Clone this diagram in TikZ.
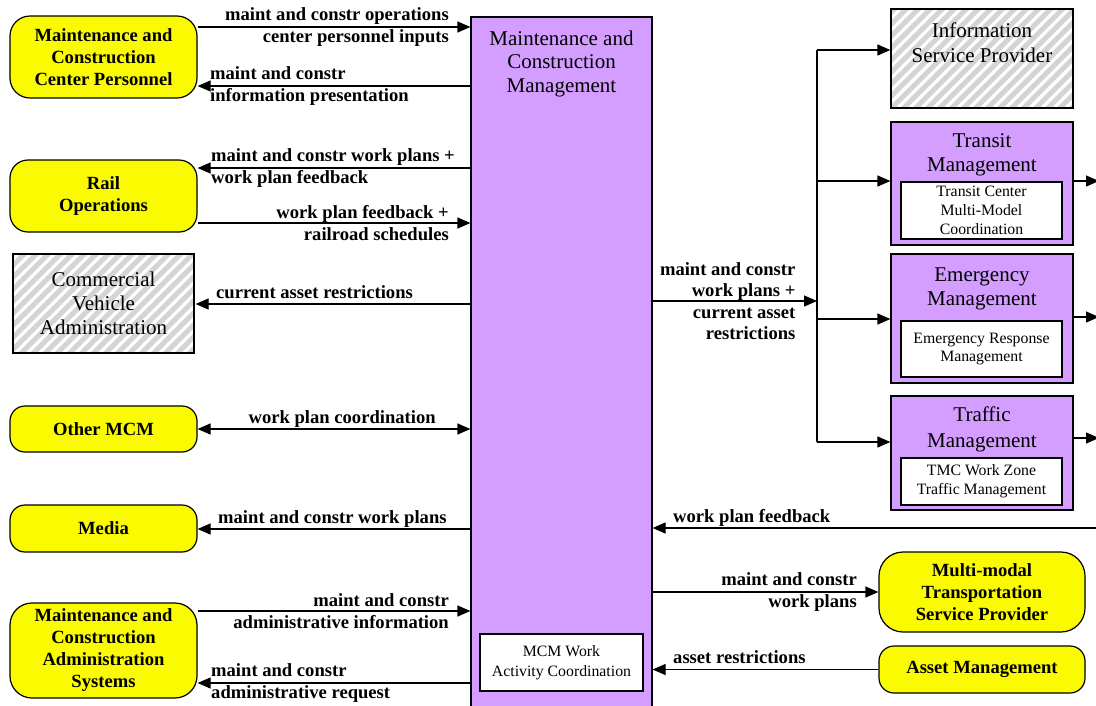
\documentclass[tikz,border=0pt]{standalone}
\usepackage{fontspec}
\setmainfont{Liberation Serif}
\usetikzlibrary{arrows.meta,patterns.meta}

\definecolor{termyellow}{RGB}{250,250,0}
\definecolor{subpurple}{RGB}{211,158,255}

\tikzset{
  term/.style={draw, line width=1.2pt, fill=termyellow, rounded corners=15pt,
    align=center, inner sep=0pt, font=\fontsize{18.6}{22}\selectfont\bfseries},
  subsys/.style={draw, line width=1.2pt, fill=subpurple, inner sep=0pt},
  hatched/.style={draw, line width=1.2pt, preaction={fill=black!17},
    pattern={Lines[angle=45,distance=8.5pt,line width=3.2pt]}, pattern color=white,
    align=center, inner sep=0pt, font=\fontsize{21}{24}\selectfont},
  equip/.style={draw, line width=1.2pt, fill=white, align=center, inner sep=0pt,
    font=\fontsize{15.8}{19}\selectfont},
  boxtitle/.style={align=center, inner sep=0pt, font=\fontsize{21}{24}\selectfont},
  flow/.style={line width=1.2pt, -{Triangle[length=13pt,width=11pt]}},
  flowboth/.style={line width=1.2pt, {Triangle[length=13pt,width=11pt]}-{Triangle[length=13pt,width=11pt]}},
  flowlbl/.style={inner sep=0pt, font=\fontsize{18.6}{21.5}\selectfont\bfseries},
}

\begin{document}
\begin{tikzpicture}[x=1pt,y=-1pt]

\useasboundingbox (0,0) rectangle (1096,705);

% Terminators on the left
\node[term, rounded corners=20pt, minimum width=187pt, minimum height=82pt] (mccp) at (103.5,57) {Maintenance and\\Construction\\Center Personnel};
\node[term, rounded corners=18pt, minimum width=187pt, minimum height=72pt] (rail) at (103.5,196) {Rail\\Operations};
\node[hatched, minimum width=181pt, minimum height=99pt] (cva) at (103.5,303.5) {Commercial\\Vehicle\\Administration};
\node[term, minimum width=187pt, minimum height=46pt] (othermcm) at (103.5,429) {Other MCM};
\node[term, minimum width=187pt, minimum height=47pt] (media) at (103.5,528.5) {Media};
\node[term, rounded corners=22pt, minimum width=187pt, minimum height=95pt] (mcas) at (103.5,650.5) {Maintenance and\\Construction\\Administration\\Systems};

% Center subsystem
\node[subsys, minimum width=181pt, minimum height=695pt] (mcm) at (561.5,364.5) {};
\node[boxtitle, font=\fontsize{21}{23.5}\selectfont] (mcmtitle) at (561.5,63.5) {Maintenance and\\Construction\\Management};
\node[equip, minimum width=163pt, minimum height=57pt, font=\fontsize{15.8}{20}\selectfont] (mcmwork) at (561.5,662.5) {MCM Work\\Activity Coordination};

% Right side
\node[hatched, minimum width=182pt, minimum height=99pt] (isp) at (982,58.5) {};
\node[boxtitle, font=\fontsize{21}{25}\selectfont] (isptext) at (982,42.5) {Information\\Service Provider};

\node[subsys, minimum width=182pt, minimum height=123pt] (transit) at (982,183.5) {};
\node[boxtitle] (transittitle) at (982,154.5) {Transit\\Management};
\node[equip, minimum width=161pt, minimum height=57pt] (transiteq) at (981.5,210.5) {Transit Center\\Multi-Model\\Coordination};

\node[subsys, minimum width=182pt, minimum height=129pt] (emergency) at (982,318.5) {};
\node[boxtitle] (emergencytitle) at (982,288.5) {Emergency\\Management};
\node[equip, minimum width=161pt, minimum height=56pt, font=\fontsize{15.8}{18}\selectfont] (emergencyeq) at (981.5,349) {Emergency Response\\Management};

\node[subsys, minimum width=182pt, minimum height=114pt] (traffic) at (982,453) {};
\node[boxtitle, font=\fontsize{21}{26}\selectfont] (traffictitle) at (982,429) {Traffic\\Management};
\node[equip, minimum width=161pt, minimum height=47pt] (trafficeq) at (981.5,481.5) {TMC Work Zone\\Traffic Management};

\node[term, rounded corners=24pt, minimum width=206pt, minimum height=80pt] (mmtsp) at (982,592) {Multi-modal\\Transportation\\Service Provider};
\node[term, minimum width=206pt, minimum height=47pt] (asset) at (982,669.5) {Asset Management};

\coordinate (split) at (817,301);
\coordinate (edge) at (1099,0);

% Flows on the left
\draw[flow] (mccp.east |- 0,27) -- (mcm.west |- 0,27)
  node[flowlbl, pos=1, anchor=east, xshift=-21pt, align=right] {maint and constr operations\\center personnel inputs};
\draw[flow] (mcm.west |- 0,86) -- (mccp.east |- 0,86)
  node[flowlbl, pos=1, anchor=west, xshift=12pt, align=left] {maint and constr\\information presentation};
\draw[flow] (mcm.west |- 0,168) -- (rail.east |- 0,168)
  node[flowlbl, pos=1, anchor=west, xshift=13pt, align=left] {maint and constr work plans +\\work plan feedback};
\draw[flow] (rail.east |- 0,223) -- (mcm.west |- 0,223)
  node[flowlbl, pos=1, anchor=east, xshift=-21pt, align=right] {work plan feedback +\\railroad schedules};
\draw[flow] (mcm.west |- 0,304) -- (cva.east |- 0,304)
  node[flowlbl, pos=1, anchor=base west, xshift=20pt, yshift=6pt] {current asset restrictions};
\draw[flowboth] (othermcm.east) -- (mcm.west |- othermcm.east)
  node[flowlbl, pos=0.53, anchor=base, yshift=6pt] {work plan coordination};
\draw[flow] (mcm.west |- 0,529) -- (media.east |- 0,529)
  node[flowlbl, pos=1, anchor=base west, xshift=20pt, yshift=6pt] {maint and constr work plans};
\draw[flow] (mcas.east |- 0,611) -- (mcm.west |- 0,611)
  node[flowlbl, pos=1, anchor=east, xshift=-21pt, align=right] {maint and constr\\administrative information};
\draw[flow] (mcm.west |- 0,683) -- (mcas.east |- 0,683)
  node[flowlbl, pos=1, anchor=west, xshift=13pt, align=left] {maint and constr\\administrative request};

% Flows on the right
\draw[flow] (mcm.east |- split) -- (split)
  node[flowlbl, pos=1, anchor=east, xshift=-21pt, align=right] {maint and constr\\work plans +\\current asset\\restrictions};
\draw[line width=1.2pt] (split |- 0,50) -- (split |- 0,442);
\draw[flow] (split |- 0,50) -- (isp.west |- 0,50);
\draw[flow] (split |- 0,181) -- (transit.west |- 0,181);
\draw[flow] (split |- 0,319) -- (emergency.west |- 0,319);
\draw[flow] (split |- 0,442) -- (traffic.west |- 0,442);

\foreach \b/\y in {transit/181, emergency/317, traffic/438}
  \draw[flow] (\b.east |- 0,\y) -- (edge |- 0,\y);

\draw[flow] (edge |- 0,528) -- (mcm.east |- 0,528)
  node[flowlbl, pos=1, anchor=base west, xshift=20pt, yshift=6pt] {work plan feedback};
\draw[flow] (mcm.east |- mmtsp.west) -- (mmtsp.west)
  node[flowlbl, pos=1, anchor=east, xshift=-21pt, align=right] {maint and constr\\work plans};
\draw[flow] (asset.west) -- (mcm.east |- asset.west)
  node[flowlbl, pos=1, anchor=base west, xshift=20pt, yshift=6pt] {asset restrictions};

\end{tikzpicture}
\end{document}
